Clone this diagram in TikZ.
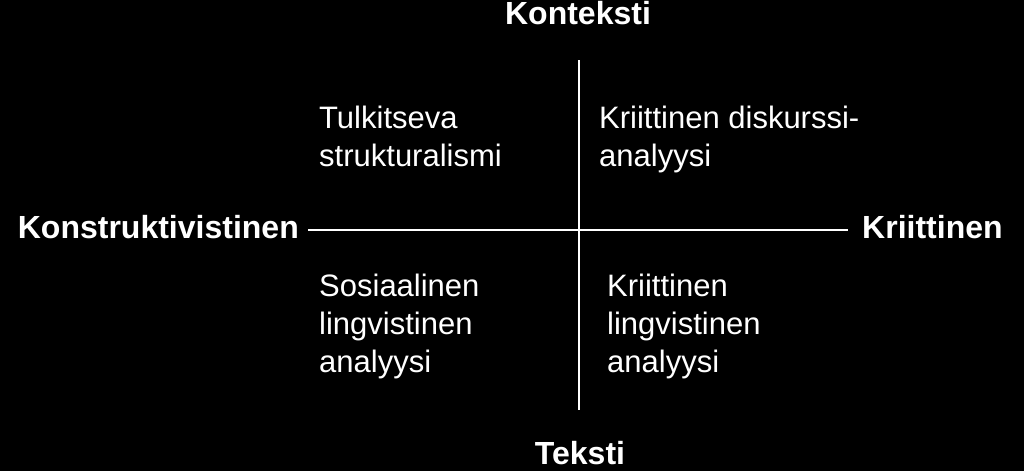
\documentclass[tikz,border=0pt]{standalone}
\usepackage{fontspec}
\setmainfont{Liberation Sans}
\begin{document}
\begin{tikzpicture}[x=1pt, y=-1pt,
  axislbl/.style={
    font=\fontsize{32}{38}\selectfont\bfseries,
    text=white, inner sep=0pt
  },
  quad/.style={
    font=\fontsize{31}{38}\selectfont,
    text=white, align=left, inner sep=0pt, anchor=north west
  },
  axis/.style={draw=white, line width=2.5pt}
]
  \fill[black] (0,0) rectangle (1024,471);
  \useasboundingbox (0,0) rectangle (1024,471);
  % axes
  \coordinate (top) at (579,60);
  \coordinate (bottom) at (579,410);
  \coordinate (left) at (308,230);
  \coordinate (right) at (848,230);
  \draw[axis] (top)--(bottom);
  \draw[axis] (left)--(right);
  % axis labels
  \node[axislbl, anchor=base] (kont) at (578,24){Konteksti};
  \node[axislbl, anchor=base] (teks) at (580,464){Teksti};
  \node[axislbl, anchor=base east] (konstr) at (299,238){Konstruktivistinen};
  \node[axislbl, anchor=base west] (kriit) at (862,238){Kriittinen};
  % quadrants
  \node[quad] (tulk) at (319,106){Tulkitseva\\strukturalismi};
  \node[quad] (kdisk) at (599,106){Kriittinen diskurssi-\\analyysi};
  \node[quad] (sosi) at (319,274){Sosiaalinen\\lingvistinen\\analyysi};
  \node[quad] (kling) at (607,274){Kriittinen\\lingvistinen\\analyysi};
\end{tikzpicture}
\end{document}
